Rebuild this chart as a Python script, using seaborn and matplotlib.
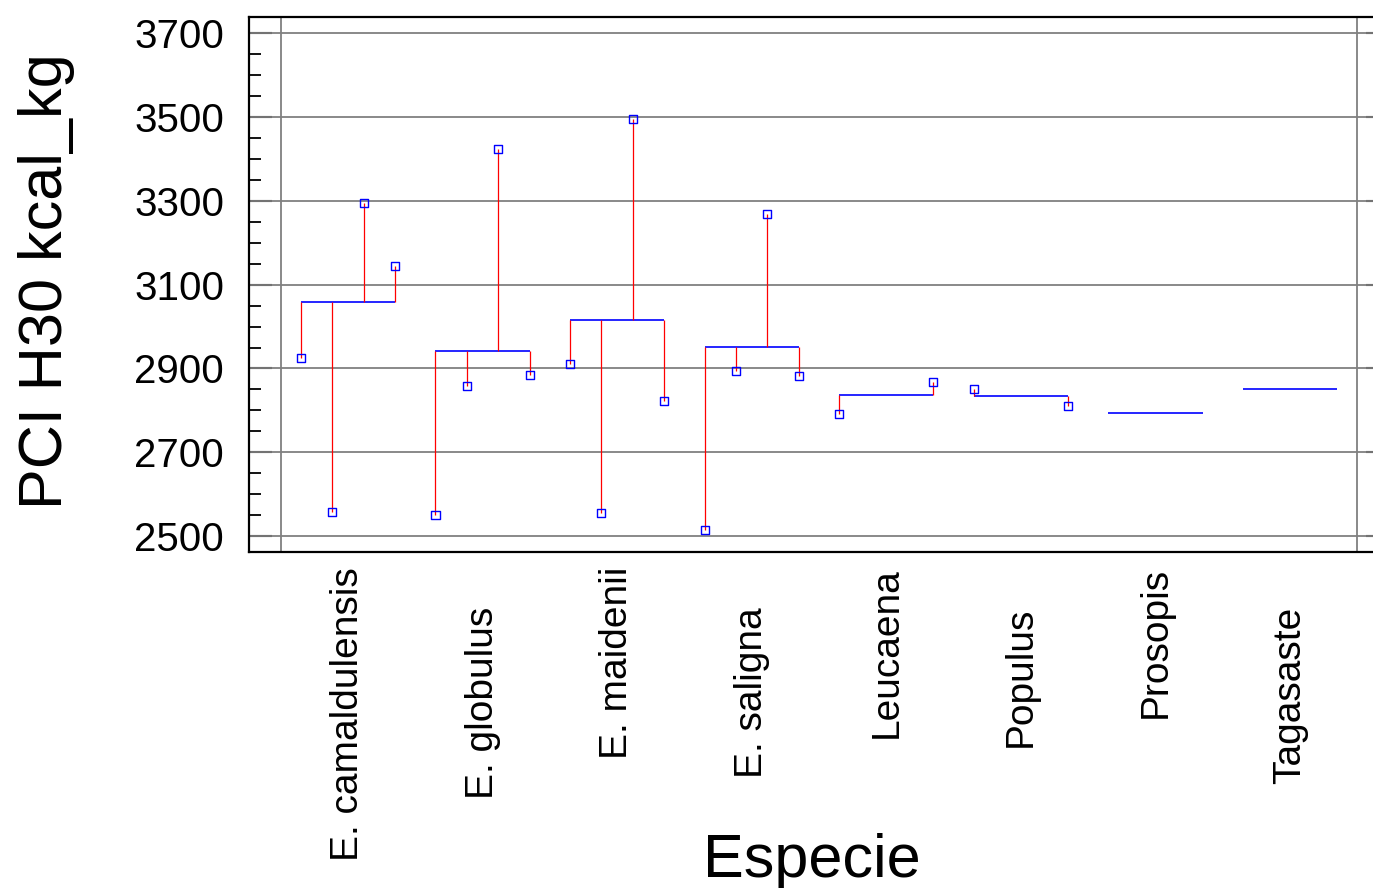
import numpy as np
import pandas as pd
import matplotlib
matplotlib.use("Agg")
import matplotlib.pyplot as plt
from matplotlib.ticker import MultipleLocator
import seaborn as sns

# ---- data ----
species = ["E. camaldulensis", "E. globulus", "E. maidenii", "E. saligna",
           "Leucaena", "Populus", "Prosopis", "Tagasaste"]
obs_camaldulensis = [2925, 2557, 3294, 3144]
obs_globulus = [2550, 2859, 3424, 2885]
obs_maidenii = [2910, 2554, 3496, 2822]
obs_saligna = [2514, 2894, 3268, 2882]
obs_leucaena = [2791, 2867]
obs_populus = [2851, 2810]
obs_prosopis = []
obs_tagasaste = []
group_level = [3059, 2941, 3015, 2951, 2837, 2835, 2794, 2851]
y_ticks = [2500, 2700, 2900, 3100, 3300, 3500, 3700]
x_label = "Especie"
y_label = "PCI H30 kcal_kg"

observations = [obs_camaldulensis, obs_globulus, obs_maidenii, obs_saligna,
                obs_leucaena, obs_populus, obs_prosopis, obs_tagasaste]

# ---- build long table ----
SPREAD = 0.35
rows = []
for i, (sp, vals) in enumerate(zip(species, observations)):
    n = len(vals)
    offs = np.linspace(-SPREAD, SPREAD, n) if n > 1 else np.zeros(n)
    for o, v in zip(offs, vals):
        rows.append({"species": sp, "xpos": i + o, "value": v, "level": group_level[i]})
df = pd.DataFrame(rows)

sns.set_theme(style="white")
plt.rcParams["font.family"] = ["Liberation Sans", "DejaVu Sans"]
plt.rcParams["text.color"] = "black"
plt.rcParams["axes.labelcolor"] = "black"
plt.rcParams["xtick.color"] = "black"
plt.rcParams["ytick.color"] = "black"

fig = plt.figure(figsize=(13.73, 8.88), dpi=100)
ax = fig.add_axes([249 / 1373, (888 - 551.5) / 888, (1389 - 249) / 1373, 534.5 / 888])

# gridlines
for yt in y_ticks:
    ax.axhline(yt, color="#808080", lw=1.3, zorder=1)
ax.axvline(-0.5, color="#808080", lw=1.3, zorder=1)
ax.axvline(len(species) - 0.5, color="#808080", lw=1.3, zorder=1)

# level lines
for i, lvl in enumerate(group_level):
    ax.hlines(lvl, i - SPREAD, i + SPREAD, color="#0000FF", lw=1.2, zorder=2)

# red connectors
ax.vlines(df["xpos"], df["level"], df["value"], color="#FF0000", lw=0.9, zorder=3)

# points
sns.scatterplot(data=df, x="xpos", y="value", marker="s", s=34,
                fc="none", ec="#0000FF", linewidth=1.0, zorder=4, ax=ax, legend=False)

ax.set_xlim(-0.7357, len(species) - 1 + 0.7357)
ax.set_ylim(2463, 3739)
ax.set_yticks(y_ticks)
ax.set_yticklabels([str(t) for t in y_ticks], fontsize=29)
ax.yaxis.set_minor_locator(MultipleLocator(50))
ax.tick_params(axis="y", which="major", direction="in", length=16.5, width=1.5,
               left=True, right=True, pad=18, colors="black")
ax.tick_params(axis="y", which="minor", direction="in", length=8.6, width=1.3,
               left=True, right=False, colors="black")
ax.set_xticks(range(len(species)))
ax.set_xticklabels(species, rotation=90, fontsize=28, va="top", ha="center")
ax.tick_params(axis="x", which="both", length=0, bottom=False, top=False, pad=11,
               colors="black")
for i, tk in enumerate(ax.xaxis.get_major_ticks()):
    tk.set_pad(11 if i % 2 == 0 else 40)

for sp in ax.spines.values():
    sp.set_color("black")
    sp.set_linewidth(1.6)
ax.spines["right"].set_visible(False)

ax.set_xlabel(x_label, fontsize=44, color="black")
ax.set_ylabel(y_label, fontsize=44, color="black")
ax.xaxis.set_label_coords(0.494, -0.527)
ax.yaxis.set_label_coords(-0.153, 0.505)
ax.grid(False)

fig.savefig("out.png", dpi=100)
